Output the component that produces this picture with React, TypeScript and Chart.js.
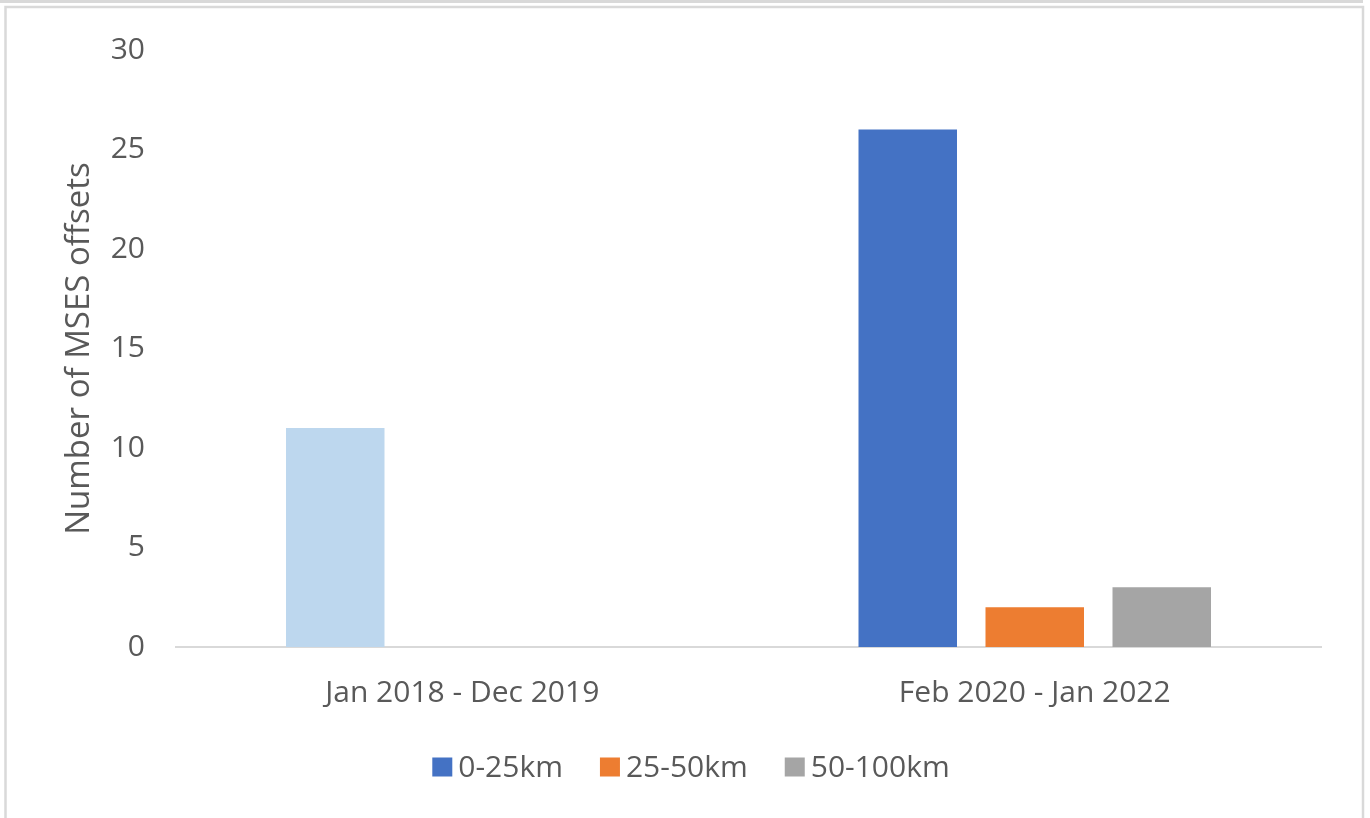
import React, { useEffect, useRef } from "react";
import { Chart, registerables } from "chart.js";

Chart.register(...registerables);

const categories = ["Jan 2018 - Dec 2019", "Feb 2020 - Jan 2022"];
const seriesNames = ["0-25km", "25-50km", "50-100km"];
const near = [11, 26];
const mid = [0, 2];
const far = [0, 3];
const nearBarColors = ["#BDD7EE", "#4472C4"];
const seriesColors = ["#4472C4", "#ED7D31", "#A5A5A5"];
const yTicksMax = 30;
const yTickStep = 5;

const FONT = "'Open Sans', 'Noto Sans', sans-serif";
const TEXT = "#595959";
const FRAME = "#d9d9d9";

const framePlugin = {
  id: "frame",
  beforeDraw(chart: any) {
    const ctx = chart.ctx;
    const w = chart.width;
    const h = chart.height;
    ctx.save();
    ctx.fillStyle = "#ffffff";
    ctx.fillRect(0, 0, w, h);
    ctx.strokeStyle = FRAME;
    ctx.lineWidth = 3;
    ctx.beginPath();
    ctx.moveTo(0, 1.5);
    ctx.lineTo(1363, 1.5);
    ctx.stroke();
    ctx.lineWidth = 2.5;
    ctx.beginPath();
    ctx.moveTo(5.5, h + 5);
    ctx.lineTo(5.5, 7);
    ctx.lineTo(1363, 7);
    ctx.lineTo(1363, h + 5);
    ctx.stroke();
    ctx.restore();
  },
};

const legendPlugin = {
  id: "customLegend",
  afterDraw(chart: any) {
    const ctx = chart.ctx;
    ctx.save();
    ctx.font = `30px ${FONT}`;
    const box = 20;
    const gapText = 6;
    const gapItem = 37;
    const widths = seriesNames.map((n) => box + gapText + ctx.measureText(n).width);
    const total = widths.reduce((a, b) => a + b, 0) + gapItem * (seriesNames.length - 1);
    let x = 691 - total / 2;
    const cy = 767;
    seriesNames.forEach((n, i) => {
      ctx.fillStyle = seriesColors[i];
      ctx.fillRect(x, cy - 9.5, box, 19);
      ctx.fillStyle = TEXT;
      ctx.textBaseline = "middle";
      ctx.textAlign = "left";
      ctx.fillText(n, x + box + gapText, cy + 1);
      x += widths[i] + gapItem;
    });
    ctx.restore();
  },
};

export default function App() {
  const ref = useRef<HTMLCanvasElement>(null);

  useEffect(() => {
    if (!ref.current) return;
    const chart = new Chart(ref.current, {
      type: "bar",
      data: {
        labels: categories,
        datasets: [
          { label: seriesNames[0], data: near, backgroundColor: nearBarColors },
          { label: seriesNames[1], data: mid, backgroundColor: seriesColors[1] },
          { label: seriesNames[2], data: far, backgroundColor: seriesColors[2] },
        ],
      },
      options: {
        animation: false,
        responsive: false,
        maintainAspectRatio: false,
        devicePixelRatio: 1,
        datasets: {
          bar: { categoryPercentage: 0.6655, barPercentage: 0.7756 },
        },
        layout: { padding: { left: 60, right: 49, top: 50, bottom: 111 } },
        plugins: {
          legend: { display: false },
          tooltip: { enabled: false },
        },
        scales: {
          x: {
            grid: { display: false, drawTicks: false },
            border: { display: true, color: FRAME, width: 2 },
            ticks: { color: TEXT, font: { family: FONT, size: 30 }, padding: 28 },
            afterFit: (s: any) => {
              s.height = 60;
            },
          },
          y: {
            min: 0,
            max: yTicksMax,
            grid: { display: false, drawTicks: false },
            border: { display: false },
            ticks: { stepSize: yTickStep, color: TEXT, font: { family: FONT, size: 30 }, padding: 31 },
            title: {
              display: true,
              text: "Number of MSES offsets",
              color: TEXT,
              font: { family: FONT, size: 33 },
              padding: 0,
            },
            afterFit: (s: any) => {
              s.width = 116;
            },
          },
        },
      },
      plugins: [framePlugin, legendPlugin],
    });
    return () => chart.destroy();
  }, []);

  return (
    <div style={{ position: "absolute", left: 0, top: 0, width: 1370, height: 818 }}>
      <canvas ref={ref} width={1370} height={818} style={{ display: "block", width: 1370, height: 818 }} />
    </div>
  );
}
